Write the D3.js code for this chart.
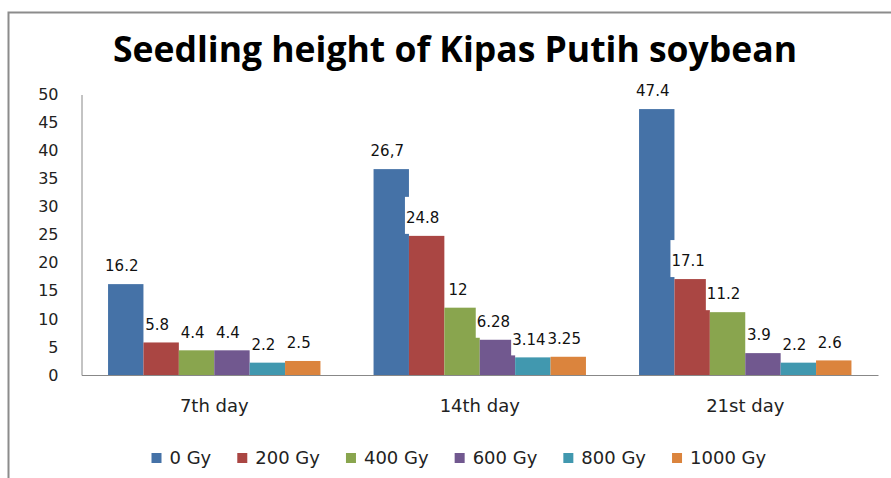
<!DOCTYPE html>
<html>
<head>
<meta charset="utf-8">
<script src="https://cdn.jsdelivr.net/npm/d3@7"></script>
<style>
  html, body { margin: 0; padding: 0; background: #fff; }
  #chart { width: 891px; height: 478px; }
</style>
</head>
<body>
<div id="chart"></div>
<script>
// ---- data ----
const categories = ["7th day", "14th day", "21st day"];
const seriesNames = ["0 Gy", "200 Gy", "400 Gy", "600 Gy", "800 Gy", "1000 Gy"];
const gy0    = [16.2, 36.7, 47.4];
const gy200  = [5.8, 24.8, 17.1];
const gy400  = [4.4, 12, 11.2];
const gy600  = [4.4, 6.28, 3.9];
const gy800  = [2.2, 3.14, 2.2];
const gy1000 = [2.5, 3.25, 2.6];
// label text as printed on the chart
const gy0Labels    = ["16.2", "26,7", "47.4"];
const gy200Labels  = ["5.8", "24.8", "17.1"];
const gy400Labels  = ["4.4", "12", "11.2"];
const gy600Labels  = ["4.4", "6.28", "3.9"];
const gy800Labels  = ["2.2", "3.14", "2.2"];
const gy1000Labels = ["2.5", "3.25", "2.6"];
const yTicks = [0, 5, 10, 15, 20, 25, 30, 35, 40, 45, 50];
const colors = ["#4572A7", "#AA4643", "#89A54E", "#71588F", "#4198AF", "#DB843D"];

const values = [gy0, gy200, gy400, gy600, gy800, gy1000];
const labels = [gy0Labels, gy200Labels, gy400Labels, gy600Labels, gy800Labels, gy1000Labels];

const width = 891, height = 478;
const margin = { top: 94.5, right: 13, bottom: 103, left: 81.5 };

const svg = d3.select("#chart").append("svg")
    .attr("width", width)
    .attr("height", height);

// frame (top + left edges visible)
svg.append("path")
    .attr("d", `M8.5,${height} V12.5 H${width}`)
    .attr("fill", "none")
    .attr("stroke", "#8c8c8c")
    .attr("stroke-width", 2);

// title
svg.append("text")
    .attr("x", 455)
    .attr("y", 62)
    .attr("text-anchor", "middle")
    .attr("textLength", 684)
    .attr("lengthAdjust", "spacingAndGlyphs")
    .style("font-family", "'Open Sans', Arial, sans-serif")
    .style("font-weight", "bold")
    .style("font-size", "35px")
    .text("Seedling height of Kipas Putih soybean");

const plotW = width - margin.left - margin.right;
const plotH = 375 - margin.top;

const g = svg.append("g")
    .attr("transform", `translate(${margin.left},${margin.top})`);

const x0 = d3.scaleBand().domain(categories).range([0, plotW]);
const x1 = d3.scaleBand().domain(seriesNames)
    .range([x0.bandwidth() * 0.1, x0.bandwidth() * 0.9]);
const y = d3.scaleLinear().domain([0, 50]).range([plotH, 0]);

// y axis
const yAxis = g.append("g")
    .call(d3.axisLeft(y).tickValues(yTicks).tickSize(0).tickPadding(23));
yAxis.select(".domain").attr("stroke", "#888");
yAxis.selectAll("text")
    .style("font-family", "'DejaVu Sans', Verdana, sans-serif")
    .style("font-size", "16px")
    .attr("fill", "#222");

// bars
const rows = categories.map((c, i) => ({
    cat: c,
    items: seriesNames.map((s, k) => ({ s, k, v: values[k][i], label: labels[k][i] }))
}));

const groups = g.selectAll(".grp")
    .data(rows)
    .enter().append("g")
    .attr("class", "grp")
    .attr("transform", d => `translate(${x0(d.cat)},0)`);

groups.selectAll("rect.bar")
    .data(d => d.items)
    .enter().append("rect")
    .attr("class", "bar")
    .attr("x", d => x1(d.s))
    .attr("y", d => y(d.v))
    .attr("width", x1.bandwidth())
    .attr("height", d => plotH - y(d.v))
    .attr("fill", d => colors[d.k]);

// x axis
const xAxis = g.append("g")
    .attr("transform", `translate(0,${plotH})`)
    .call(d3.axisBottom(x0).tickSize(0).tickPadding(24));
xAxis.select(".domain").attr("stroke", "#888");
xAxis.selectAll("text")
    .style("font-family", "'DejaVu Sans', Verdana, sans-serif")
    .style("font-size", "18px")
    .attr("fill", "#222");

// data labels with white boxes
const lab = groups.selectAll("g.lab")
    .data(d => d.items)
    .enter().append("g")
    .attr("class", "lab")
    .attr("transform", d => `translate(${x1(d.s) + x1.bandwidth() / 2 - 4},${y(d.v) - 18})`);

lab.append("text")
    .attr("text-anchor", "middle")
    .attr("dy", "0.35em")
    .style("font-family", "'DejaVu Sans', Verdana, sans-serif")
    .style("font-size", "15px")
    .attr("fill", "#111")
    .text(d => d.label);

lab.each(function () {
    const t = d3.select(this).select("text");
    const w = t.node().getComputedTextLength();
    d3.select(this).insert("rect", "text")
        .attr("x", -w / 2 - 1)
        .attr("y", -21)
        .attr("width", w + 2)
        .attr("height", 37)
        .attr("fill", "#fff");
});

// legend (flow layout)
const legend = svg.append("g")
    .attr("transform", "translate(151.5,458)");

let lx = 0;
seriesNames.forEach((name, i) => {
    const item = legend.append("g").attr("transform", `translate(${lx},0)`);
    item.append("rect")
        .attr("x", 0)
        .attr("y", -5)
        .attr("width", 10)
        .attr("height", 10)
        .attr("fill", colors[i]);
    const t = item.append("text")
        .attr("x", 18)
        .attr("dy", "0.35em")
        .style("font-family", "'DejaVu Sans', Verdana, sans-serif")
        .style("font-size", "18px")
        .attr("fill", "#222")
        .text(name);
    lx += 18 + t.node().getComputedTextLength() + 26;
});
</script>
</body>
</html>
